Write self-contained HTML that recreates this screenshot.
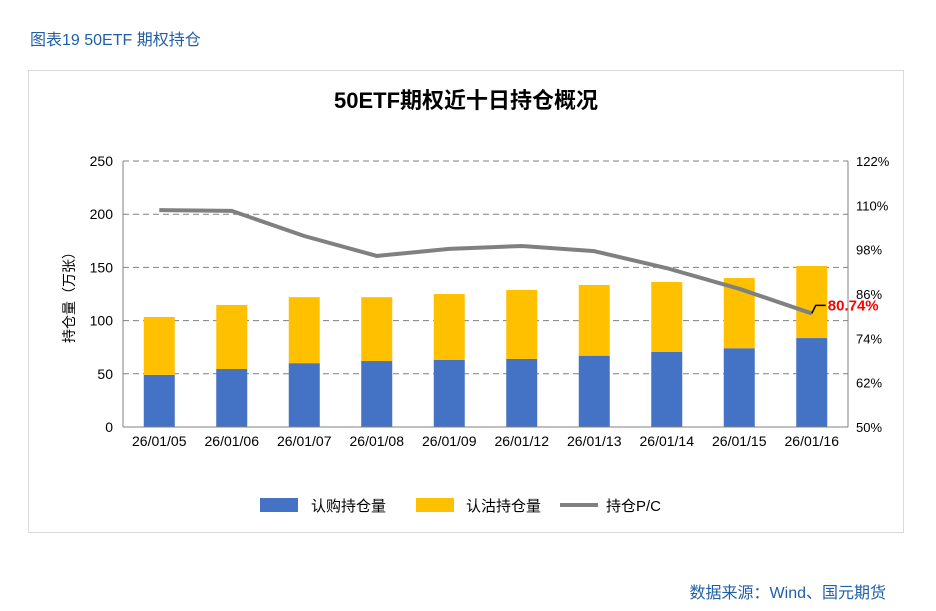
<!DOCTYPE html>
<html><head><meta charset="utf-8"><style>
body{margin:0;background:#fff;width:936px;height:606px;overflow:hidden;font-family:"Liberation Sans","Noto Sans CJK SC",sans-serif}
</style></head><body>
<svg width="936" height="606" xmlns="http://www.w3.org/2000/svg" font-family="Liberation Sans, Noto Sans CJK SC, sans-serif">
<text x="30" y="45" font-size="16" fill="#1f5fa8">图表19 50ETF 期权持仓</text>
<rect x="28.5" y="70.5" width="875" height="462" fill="#fff" stroke="#d9d9d9"/>
<text x="466" y="108" font-size="22" font-weight="bold" text-anchor="middle" fill="#000">50ETF期权近十日持仓概况</text>
<g id="grid"></g><g id="bars"></g><g id="axes"></g><g id="line"></g>
<text transform="translate(74,294) rotate(-90)" font-size="14" text-anchor="middle">持仓量（万张）</text>
<g>
<rect x="260" y="498" width="38" height="14" fill="#4472c4"/>
<text x="311" y="511" font-size="15">认购持仓量</text>
<rect x="416" y="498" width="38" height="14" fill="#ffc000"/>
<text x="466" y="511" font-size="15">认沽持仓量</text>
<line x1="560" y1="505" x2="598" y2="505" stroke="#808080" stroke-width="4"/>
<text x="606" y="511" font-size="15">持仓P/C</text>
</g>
<text x="886" y="598" font-size="16" fill="#1f5fa8" text-anchor="end">数据来源：Wind、国元期货</text>
</svg>
<script>
const categories=["26/01/05","26/01/06","26/01/07","26/01/08","26/01/09","26/01/12","26/01/13","26/01/14","26/01/15","26/01/16"];
const callValues=[49,54.5,60,62,63,64,67,70.5,74,83.6];
const putValues=[54.4,60.2,62,60,62,64.8,66.5,65.8,66,67.7];
const pcValues=[108.7,108.5,101.7,96.3,98.2,99,97.6,93,87.4,80.74];
const leftTicks=[0,50,100,150,200,250];
const rightTicks=[50,62,74,86,98,110,122];
const NS="http://www.w3.org/2000/svg";
const x0=123,x1=848,yB=427,yT=161;
const yL=v=>yB-(v/250)*(yB-yT);
const yR=v=>yB-((v-50)/72)*(yB-yT);
const step=(x1-x0)/categories.length;
const xc=i=>x0+step*(i+0.5);
function mk(tag,attrs,parent,text){const e=document.createElementNS(NS,tag);for(const k in attrs)e.setAttribute(k,attrs[k]);if(text!==undefined)e.textContent=text;document.getElementById(parent).appendChild(e);return e;}
leftTicks.forEach(t=>{
 if(t>0){const g=mk('line',{x1:x0,x2:x1,y1:yL(t),y2:yL(t),stroke:'#808080','stroke-dasharray':'6,4'},'grid');
 
 }
 const l=mk('text',{x:x0-10,y:yL(t)+5,'font-size':14,'text-anchor':'end'},'axes',String(t));
 
 
});
rightTicks.forEach(t=>{
 const l=mk('text',{x:x1+8,y:yR(t)+5,'font-size':13},'axes',t+'%');
 
 
});
const ax=mk('line',{x1:x0,x2:x0,y1:yT,y2:yB,stroke:'#808080'},'axes');


const ar=mk('line',{x1:x1,x2:x1,y1:yT,y2:yB,stroke:'#808080'},'axes');


const xb=mk('line',{x1:x0,x2:x1,y1:yB,y2:yB,stroke:'#808080'},'axes');


const bw=31;
categories.forEach((c,i)=>{
 const b=mk('rect',{x:xc(i)-bw/2,y:yL(callValues[i]),width:bw,height:yB-yL(callValues[i]),fill:'#4472c4'},'bars');
 
 
 const tot=callValues[i]+putValues[i];
 const p=mk('rect',{x:xc(i)-bw/2,y:yL(tot),width:bw,height:yL(callValues[i])-yL(tot),fill:'#ffc000'},'bars');
 
 
 const t=mk('text',{x:xc(i),y:yB+19,'font-size':14,'text-anchor':'middle'},'axes',c);
 
 
});
const pts=pcValues.map((v,i)=>xc(i)+','+yR(v)).join(' ');
const pl=mk('polyline',{points:pts,fill:'none',stroke:'#808080','stroke-width':4,'stroke-linejoin':'round'},'line');


const li=pcValues.length-1,lx=xc(li),ly=yR(pcValues[li]);
const lead=mk('polyline',{points:`${lx},${ly} ${lx+4},${ly-8} ${lx+14},${ly-8}`,fill:'none',stroke:'#000','stroke-width':1.5},'line');


const an=mk('text',{x:lx+16,y:ly-3,'font-size':15,'font-weight':'bold',fill:'#ff0000'},'line',pcValues[li].toFixed(2)+'%');


</script>
</body></html>
